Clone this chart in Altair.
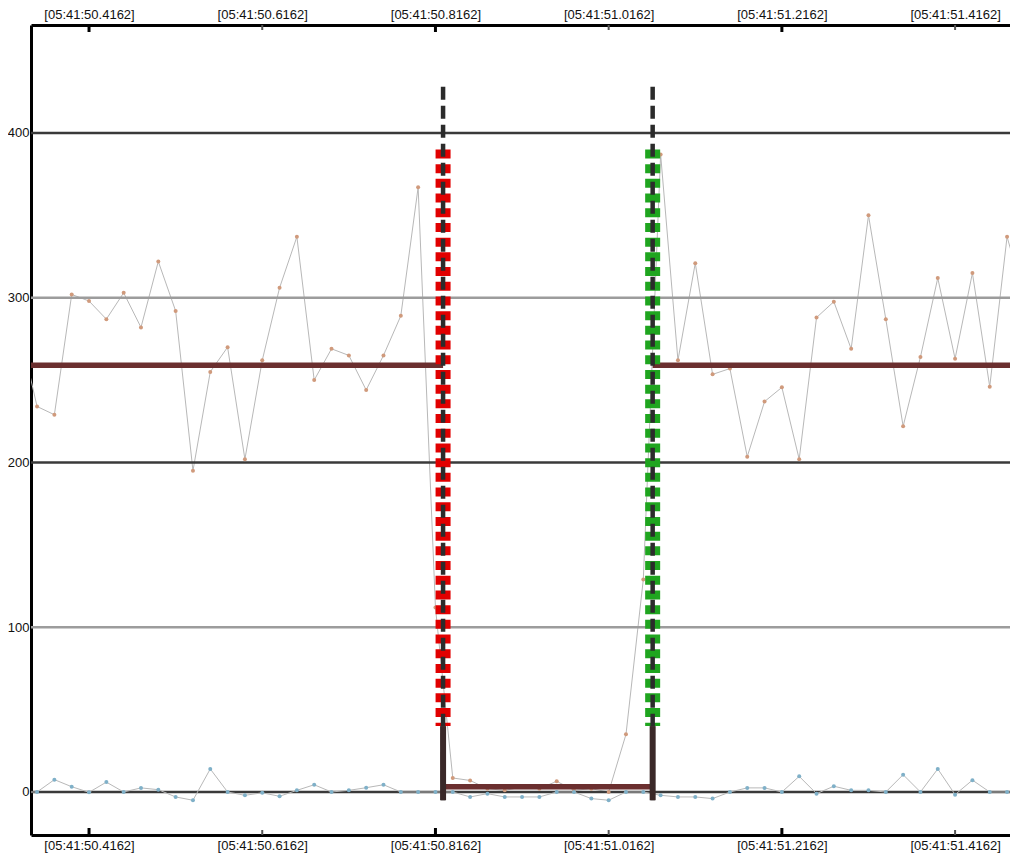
import altair as alt
import pandas as pd

# sample times (seconds within 05:41), 50 Hz sampling
sample_times = [round(50.3362 + 0.02 * i, 4) for i in range(59)]

upper_values = [280, 234, 229, 302, 298, 287, 303, 282, 322, 292,
                195, 255, 270, 202, 262, 306, 337, 250, 269, 265,
                244, 265, 289, 367, 112, 8.5, 7, 2, 1, 3,
                2, 6.5, 1, 2, 0, 35, 129, 387, 262, 321,
                253.5, 257, 203.5, 237, 245.6, 202, 288, 297.6, 269, 350,
                287, 222, 264, 312, 263, 315, 246, 337, 300]

lower_values = [0, 0, 7.5, 3.2, -0.2, 6, 0, 2.5, 1.4, -3,
                -5, 14, 0, -2, -0.5, -2.6, 1, 4.4, 0, 1,
                2.6, 4.4, 0, 0, 0, 0, -3, -1, -3, -3,
                -3, 0, 0, -4, -5, 0, 0, -2, -3, -3,
                -4, 0, 2.5, 2.5, 0, 9.5, -1, 3.5, 1, 1,
                0, 10.5, 0, 14, -1.6, 7.2, 0, 0, 0]

tick_times_major = [50.4162, 50.8162, 51.2162]
tick_times_minor = [50.6162, 51.0162, 51.4162]
tick_times = sorted(tick_times_major + tick_times_minor)

grid_dark = [0, 200, 400]
grid_light = [100, 300]
y_labels = [0, 100, 200, 300, 400]

# level segments (start, end, level)
seg_start = [50.30, 50.825, 51.067]
seg_end = [50.825, 51.067, 51.60]
seg_level = [259, 3.2, 259]

# event markers
marker_time = [50.825, 51.067]
marker_name = ["start", "end"]
marker_dot_top = [390, 390]
marker_dot_bottom = [40, 40]
marker_line_top = [428, 428]
marker_line_bottom = [-5, -5]

X_DOMAIN = [50.3492, 51.4796]
Y_DOMAIN = [-26.1, 465.55]

series = pd.DataFrame({"t": sample_times, "upper": upper_values, "lower": lower_values})
segs = pd.DataFrame({"t0": seg_start, "t1": seg_end, "v": seg_level})
marks_df = pd.DataFrame({"t": marker_time, "name": marker_name,
                         "dtop": marker_dot_top, "dbot": marker_dot_bottom,
                         "ltop": marker_line_top, "lbot": marker_line_bottom})

xs = alt.Scale(domain=X_DOMAIN, nice=False, zero=False)
ys = alt.Scale(domain=Y_DOMAIN, nice=False, zero=False)

label_expr = "'[05:41:' + format(datum.value, '.4f') + ']'"

FONT = "Liberation Sans"

x_bottom_axis = alt.Axis(orient="bottom", values=tick_times, labelExpr=label_expr,
                         ticks=False, grid=False, domain=True, domainColor="#000000",
                         domainWidth=3, labelFont=FONT, labelFontSize=13,
                         labelColor="#111111", labelPadding=4, title=None,
                         labelFlush=False, labelOverlap=False)
x_top_axis = alt.Axis(orient="top", values=tick_times, labelExpr=label_expr,
                      ticks=False, grid=False, domain=True, domainColor="#000000",
                      domainWidth=3, labelFont=FONT, labelFontSize=13,
                      labelColor="#111111", labelPadding=4, title=None,
                      labelFlush=False, labelOverlap=False)
y_axis = alt.Axis(orient="left", values=y_labels, ticks=False, grid=False, domain=True,
                  domainColor="#000000", domainWidth=3, labelFont=FONT,
                  labelFontSize=13, labelColor="#111111", labelPadding=2,
                  title=None)


def Y(field):
    return alt.Y(field, scale=ys, axis=y_axis)


base = alt.Chart(series)

# series lines and points
up_line = base.mark_line(color="#b8b8b8", strokeWidth=1, clip=True).encode(
    x=alt.X("t:Q", scale=xs, axis=x_bottom_axis), y=Y("upper:Q"))
up_pts = base.mark_circle(color="#d09a7c", size=16, opacity=1, clip=True).encode(
    x=alt.X("t:Q", scale=xs, axis=None), y=Y("upper:Q"))
lo_line = base.mark_line(color="#b8b8b8", strokeWidth=1, clip=True).encode(
    x=alt.X("t:Q", scale=xs, axis=None), y=Y("lower:Q"))
lo_pts = base.mark_circle(color="#7fb0c8", size=16, opacity=1, clip=True).encode(
    x=alt.X("t:Q", scale=xs, axis=None), y=Y("lower:Q"))

# gridlines
gd = alt.Chart(pd.DataFrame({"v": grid_dark})).mark_rule(
    color="#3a3a3a", strokeWidth=2.6).encode(y=Y("v:Q"))
gl = alt.Chart(pd.DataFrame({"v": grid_light})).mark_rule(
    color="#9c9c9c", strokeWidth=2.6).encode(y=Y("v:Q"))

# level segments
seg_layer = alt.Chart(segs).mark_rule(color="#6b2f2f", strokeWidth=5.5, clip=True).encode(
    x=alt.X("t0:Q", scale=xs, axis=None), x2="t1:Q", y=Y("v:Q"))

# event markers
dots = alt.Chart(marks_df).mark_rule(strokeWidth=15, strokeDash=[9, 5.7]).encode(
    x=alt.X("t:Q", scale=xs, axis=None),
    y=Y("dtop:Q"), y2="dbot:Q",
    color=alt.Color("name:N", scale=alt.Scale(domain=["start", "end"],
                                              range=["#e10000", "#1fa51f"]), legend=None))
dash_line = alt.Chart(marks_df).mark_rule(strokeWidth=4.5, strokeDash=[13, 6],
                                          color="#2b2b2b").encode(
    x=alt.X("t:Q", scale=xs, axis=None), y=Y("ltop:Q"), y2="lbot:Q")
solid_foot = alt.Chart(marks_df).mark_rule(strokeWidth=6, color="#3a2828").encode(
    x=alt.X("t:Q", scale=xs, axis=None), y=Y("dbot:Q"), y2="lbot:Q")

# inward ticks
top_major = alt.Chart(pd.DataFrame({"t": tick_times_major})).mark_rule(
    color="#000000", strokeWidth=3).encode(
    x=alt.X("t:Q", scale=xs, axis=x_top_axis), y=alt.value(0), y2=alt.value(7))
top_minor = alt.Chart(pd.DataFrame({"t": tick_times_minor})).mark_rule(
    color="#555555", strokeWidth=2).encode(
    x=alt.X("t:Q", scale=xs, axis=None), y=alt.value(0), y2=alt.value(5))
bot_major = alt.Chart(pd.DataFrame({"t": tick_times_major})).mark_rule(
    color="#000000", strokeWidth=3).encode(
    x=alt.X("t:Q", scale=xs, axis=None), y=alt.value(810), y2=alt.value(803))
bot_minor = alt.Chart(pd.DataFrame({"t": tick_times_minor})).mark_rule(
    color="#555555", strokeWidth=2).encode(
    x=alt.X("t:Q", scale=xs, axis=None), y=alt.value(810), y2=alt.value(805))

chart = alt.layer(
    up_line, top_major, gd, gl, up_pts, lo_line, lo_pts, seg_layer,
    dots, dash_line, solid_foot, top_minor, bot_major, bot_minor
).resolve_axis(x="independent").properties(
    width=979, height=810,
    autosize=alt.AutoSizeParams(type="none"),
    padding={"left": 23, "top": 17, "right": 0, "bottom": 24},
    background="#ffffff"
).configure_view(strokeWidth=0)

chart.save("out.html", embed_options={"renderer": "svg", "actions": False})
